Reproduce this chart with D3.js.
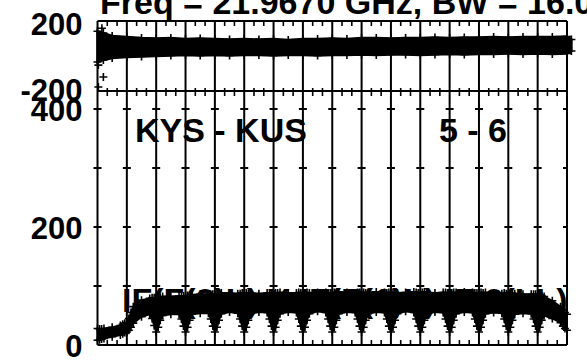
<!DOCTYPE html>
<html><head><meta charset="utf-8">
<script src="https://cdn.jsdelivr.net/npm/d3@7"></script>
<style>
html,body{margin:0;padding:0;background:#fff;overflow:hidden;}
svg{display:block;}
text{font-family:"Liberation Sans",Arial,Helvetica,sans-serif;font-weight:bold;fill:#000;}
</style></head>
<body>
<svg id="chart" width="587" height="361"></svg>
<script>
// ---------- data ----------
const titleText = "Freq = 21.9670 GHz, BW = 16.000 MHz";
const baselineLabel = "KYS - KUS";
const antennaLabel = "5 - 6";
const ifLabel = "IF(F(2)L) X IF(F(1)L) IF 2(LL)";
const channels = d3.range(16);                 // 16 IF bands
const phaseTicks = [-200, 200];
const ampTicks = [0, 200, 400];
const ampCrossTicks = [100, 200, 300, 400];

// phase panel envelope (degrees) at positions in IF units
const phaseX  = [0, 0.2, 0.5, 1, 1.5, 2, 2.5, 3, 3.5, 4, 4.5, 5, 5.5, 6, 6.5, 7, 7.5, 8, 8.5, 9, 9.5, 10, 10.5, 11, 11.5, 12, 12.5, 13, 13.5, 14, 14.5, 15, 15.5, 16, 16.15];
const phaseHi = [150, 139, 121, 115, 109, 106, 109, 103, 106, 103, 100, 103, 100, 103, 97, 103, 103, 106, 103, 109, 109, 106, 109, 109, 112, 109, 112, 112, 115, 112, 115, 115, 115, 118, 100];
const phaseLo = [-36, -24, -12, -6, -3, 0, 3, 6, 3, 6, 3, 6, 6, 3, 6, 6, 3, 6, 6, 9, 6, 9, 9, 6, 9, 12, 9, 12, 12, 15, 12, 15, 12, 15, 30];
const phaseOutX = [0.15, 0.03, 0.2, 0.03];
const phaseOutV = [168, -55, -127, -188];

// amplitude envelope per IF, sampled at fractional positions inside each IF
const chanFrac = [0, 0.07, 0.14, 0.22, 0.5, 0.78, 0.86, 0.93];
const ampHi = [
  [28, 27, 27, 28, 30, 33, 35, 37],
  [38, 45, 55, 65, 76, 79, 80, 80],
  [80, 81, 81, 82, 82, 83, 83, 83],
  [83, 84, 84, 85, 86, 86, 86, 86],
  [86, 86, 87, 88, 88, 87, 87, 88],
  [88, 88, 87, 88, 87, 88, 88, 87],
  [87, 88, 88, 89, 88, 88, 89, 88],
  [88, 88, 89, 88, 89, 89, 88, 88],
  [88, 89, 89, 90, 89, 88, 89, 89],
  [89, 89, 88, 89, 90, 89, 88, 89],
  [89, 88, 89, 88, 89, 90, 89, 88],
  [88, 89, 90, 89, 88, 89, 89, 88],
  [88, 88, 89, 89, 90, 89, 88, 88],
  [88, 89, 88, 89, 88, 87, 88, 87],
  [87, 87, 88, 87, 86, 86, 86, 86],
  [86, 85, 84, 82, 75, 65, 60, 55]
];
const ampLo = [
  [8, 9, 10, 11, 14, 17, 19, 21],
  [22, 25, 30, 37, 48, 52, 45, 33],
  [22, 30, 42, 50, 52, 52, 44, 32],
  [22, 30, 42, 52, 54, 54, 44, 32],
  [22, 30, 42, 53, 56, 54, 44, 32],
  [22, 30, 42, 53, 56, 55, 44, 32],
  [22, 30, 42, 53, 56, 55, 44, 32],
  [22, 30, 42, 53, 57, 55, 44, 32],
  [22, 30, 42, 53, 56, 55, 44, 32],
  [22, 30, 42, 53, 56, 55, 44, 32],
  [22, 30, 42, 53, 57, 55, 44, 32],
  [22, 30, 42, 53, 56, 55, 44, 32],
  [22, 30, 42, 53, 56, 55, 44, 32],
  [22, 30, 42, 53, 55, 54, 44, 32],
  [22, 30, 42, 52, 54, 53, 44, 32],
  [22, 30, 42, 50, 45, 38, 32, 28]
];
const ampEndHi = 52, ampEndLo = 25;

// ---------- layout ----------
const svg = d3.select("#chart");
const X0 = 97.5, X1 = 567;
const x = d3.scaleLinear().domain([0, 16]).range([X0, X1]);
const yP = d3.scaleLinear().domain([-200, 200]).range([89, 23]);
const yA = d3.scaleLinear().domain([0, 400]).range([345, 109]);
const topY0 = 21, topY1 = 91, botY = 345;

// ---------- data marks ----------
const phasePts = phaseX.map((p, i) => ({x: p, hi: phaseHi[i], lo: phaseLo[i]}));
const areaP = d3.area().x(d => x(d.x)).y0(d => yP(d.lo)).y1(d => yP(d.hi)).curve(d3.curveLinear);
svg.append("path").attr("d", areaP(phasePts)).attr("fill", "#000").attr("stroke", "#000").attr("stroke-width", 2.5);
const plus = (g, cx, cy, r) => {
  g.append("path").attr("d", `M${cx - r},${cy}H${cx + r}M${cx},${cy - r}V${cy + r}`)
   .attr("stroke", "#000").attr("stroke-width", 1.6).attr("fill", "none");
};
const gMark = svg.append("g");
phaseOutX.forEach((p, i) => plus(gMark, x(p), yP(phaseOutV[i]), 4));
phasePts.forEach(d => { plus(gMark, x(d.x), yP(d.hi), 4); plus(gMark, x(d.x), yP(d.lo), 4); });

const ampPts = [];
channels.forEach(c => chanFrac.forEach((f, j) => ampPts.push({x: c + f, hi: ampHi[c][j], lo: ampLo[c][j]})));
ampPts.push({x: 16, hi: ampEndHi, lo: ampEndLo});
const areaA = d3.area().x(d => x(d.x)).y0(d => yA(d.lo)).y1(d => yA(d.hi)).curve(d3.curveLinear);
svg.append("path").attr("d", areaA(ampPts)).attr("fill", "#000").attr("stroke", "#000").attr("stroke-width", 2);
ampPts.forEach(d => { plus(gMark, x(d.x), yA(d.hi), 4); plus(gMark, x(d.x), yA(d.lo), 4); });

// ---------- frame, grid, ticks ----------
const line = (x1, y1, x2, y2, w) => svg.append("line").attr("x1", x1).attr("y1", y1).attr("x2", x2).attr("y2", y2)
  .attr("stroke", "#000").attr("stroke-width", w || 2);
line(X0, topY0, X1, topY0);
line(X0, topY1, X1, topY1);
line(X0, topY0, X0, botY);
line(X1, topY0, X1, botY);
line(X0, botY, X1, botY);
d3.range(1, 16).forEach(b => line(x(b), topY0, x(b), botY));
channels.forEach(c => [1 / 3, 2 / 3].forEach(f => {
  const xx = x(c + f);
  line(xx, topY0, xx, topY0 + 5, 1.6);
  line(xx, topY1 - 3, xx, topY1 + 5, 1.6);
  line(xx, botY, xx, botY - 5, 1.6);
}));
d3.range(0, 17).forEach(b => ampCrossTicks.forEach(v => {
  const xx = x(b);
  line(xx - 4, yA(v), xx + (b === 16 ? 0 : 4), yA(v), 2);
}));

// ---------- axes labels ----------
const fmt = d => String(d);   // plain hyphen minus
const axP = d3.axisLeft(yP).tickValues(phaseTicks).tickFormat(fmt).tickSize(0).tickPadding(15);
const gP = svg.append("g").attr("transform", `translate(${X0},0)`).call(axP);
const axA = d3.axisLeft(yA).tickValues(ampTicks).tickFormat(fmt).tickSize(0).tickPadding(15);
const gA = svg.append("g").attr("transform", `translate(${X0},0)`).call(axA);
[gP, gA].forEach(g => {
  g.select(".domain").remove();
  g.selectAll("text").attr("font-size", 31).attr("font-family", "Liberation Sans, Arial, sans-serif")
    .attr("font-weight", "bold").attr("fill", "#000").attr("dy", "0.36em");
});

// ---------- texts ----------
svg.append("text").attr("x", 100).attr("y", 14).attr("font-size", 34).text(titleText);
svg.append("text").attr("x", 135).attr("y", 142).attr("font-size", 34).text(baselineLabel);
svg.append("text").attr("x", 439).attr("y", 142).attr("font-size", 34).text(antennaLabel);
svg.append("text").attr("x", 122).attr("y", 312).attr("font-size", 34).text(ifLabel);
</script>
</body></html>
